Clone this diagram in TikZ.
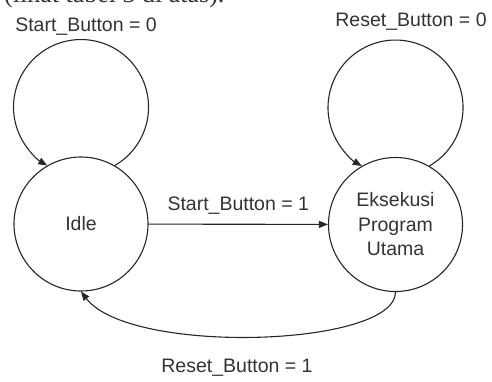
\documentclass[tikz,border=0pt]{standalone}
\usepackage{fontspec}
\setmainfont{Liberation Sans}
\newfontfamily\captionfont{Liberation Serif}
\usetikzlibrary{arrows.meta}
\tikzset{
  state/.style={draw=black!85, line width=1.1pt, circle, minimum size=134pt, inner sep=0pt, align=center, text=black!80},
  trans/.style={draw=black!85, line width=1.1pt, -{Triangle[length=9pt,width=7pt]}},
  lbl/.style={text=black!80, inner sep=0pt}
}
\begin{document}
\begin{tikzpicture}[x=1pt,y=1pt,font=\fontsize{19.5}{24.5}\selectfont]
    \useasboundingbox (0,-381) rectangle (492,0);
    \clip (0,-381) rectangle (492,0);
    % Caption cut off at the top
    \node[lbl, anchor=base west, font=\captionfont\fontsize{26}{30}\selectfont] (cut) at (4,-2) {(lihat tabel 3 di atas).};
    % States
    \node[state] (idle) at (81,-224) {Idle};
    \node[state] (eks) at (395.5,-224.5) {Eksekusi\\Program\\Utama};
    % Self loops
    \draw[trans] (idle.60) arc[start angle=-60, end angle=240, radius=67.5];
    \draw[trans] (eks.60) arc[start angle=-60, end angle=240, radius=67.5];
    % Transitions
    \draw[trans] (idle) -- node[lbl, above=9pt] (go) {Start\_Button = 1} (eks);
    \draw[trans] (eks.south) .. controls +(0,-55) and +(49,-64) .. (idle.south);
    % Labels
    \node[lbl] (stay) at (86,-27) {Start\_Button = 0};
    \node[lbl] (hold) at (411,-22) {Reset\_Button = 0};
    \node[lbl] (back) at (237,-368) {Reset\_Button = 1};
\end{tikzpicture}
\end{document}
